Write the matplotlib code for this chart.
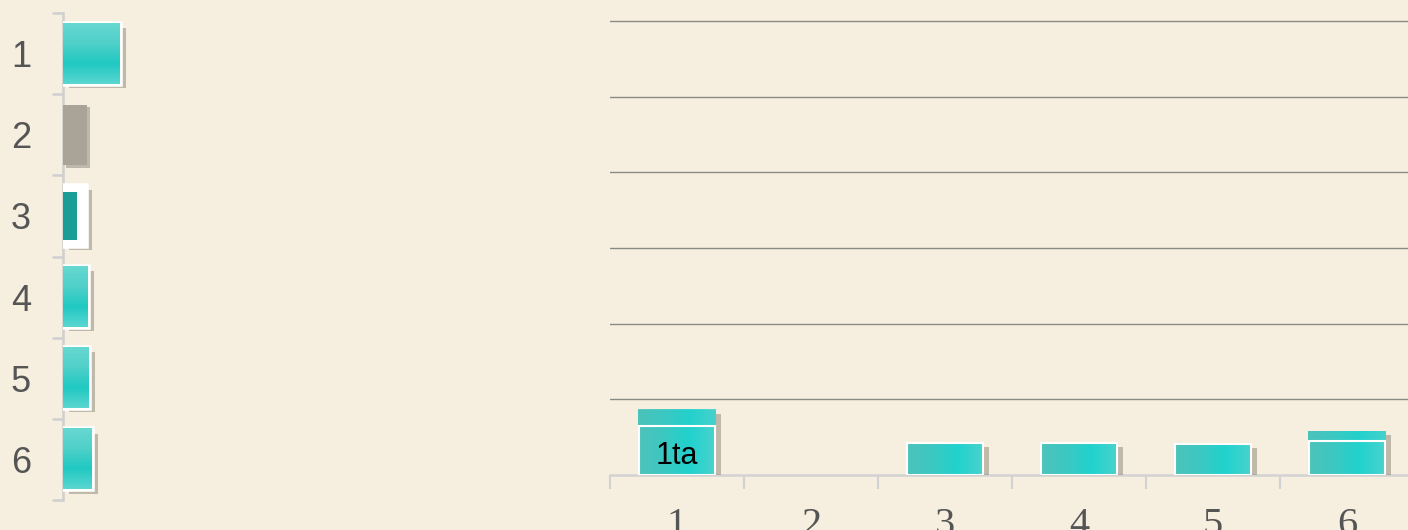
import matplotlib
matplotlib.use("Agg")
import matplotlib.pyplot as plt
import numpy as np
from matplotlib import patheffects as pe
from matplotlib.colors import LinearSegmentedColormap

# ---- data ----
categories = ["1", "2", "3", "4", "5", "6"]
left_values = [11.4, 4.8, 4.6, 5.0, 5.2, 5.8]
left_inner = [0, 0, 2.8, 0, 0, 0]
right_values = [8.6, 0, 4.2, 4.2, 4.1, 5.8]
right_inner = [6.5, 0, 4.2, 4.2, 4.1, 4.5]
bar_label = "1ta"

BG = "#f6efdf"
TEAL_L = "#4cc3bb"
TEAL_R = "#20d2cd"
GRAY_TXT = "#555555"

fig = plt.figure(figsize=(14.08, 5.30), dpi=100, facecolor=BG)

teal_h = LinearSegmentedColormap.from_list("th", [TEAL_L, "#3cc8c2", TEAL_R, "#48d3cd"])
teal_v = LinearSegmentedColormap.from_list("tv", ["#66d8d1", "#4fd0c9", "#1fc9c2", "#5ad6d0"])

def shadow():
    return [pe.SimplePatchShadow(offset=(4, -3), shadow_rgbFace="#6e685c", alpha=0.4), pe.Normal()]

# ---------------- left panel (horizontal bars) ----------------
axl = fig.add_axes([63 / 1408, 30 / 530, 500 / 1408, 487 / 530])
axl.set_facecolor("none")
ypos = np.arange(len(categories))
hb = axl.barh(ypos, left_values, height=0.74, color=TEAL_R, edgecolor="white", linewidth=4, zorder=3)
for i, p in enumerate(hb):
    p.set_path_effects(shadow())
    x0, y0, w, h = p.get_x(), p.get_y(), p.get_width(), p.get_height()
    if i == 1:
        p.set_facecolor("#a9a398")
        p.set_edgecolor("none")
        p.set_path_effects([pe.SimplePatchShadow(offset=(2, -2), shadow_rgbFace="#9a9488", alpha=0.6), pe.Normal()])
        continue
    if i == 2:
        p.set_facecolor("white")
        continue
    grad = np.linspace(0, 1, 50).reshape(-1, 1)
    axl.imshow(grad, extent=[x0, x0 + w, y0 + h, y0], aspect="auto", cmap=teal_v, zorder=3.5, origin="upper")
ib = axl.barh(ypos, left_inner, height=0.6, color="#1a9d97", zorder=4)

axl.set_xlim(0, 100)
axl.set_ylim(len(categories) - 0.5, -0.5)
for s in ["top", "right", "bottom"]:
    axl.spines[s].set_visible(False)
axl.spines["left"].set_color("#cfcfcf")
axl.spines["left"].set_linewidth(1.8)
axl.set_xticks([])
axl.set_yticks(ypos)
axl.set_yticklabels(categories, fontsize=26, color=GRAY_TXT, family=["Liberation Sans", "DejaVu Sans"])
axl.tick_params(axis="y", which="major", length=0, pad=23)
axl.set_yticks(np.arange(-0.5, len(categories)), minor=True)
axl.tick_params(axis="y", which="minor", length=8, width=1.8, color="#cfcfcf")

# ---------------- right panel (vertical bars) ----------------
ytop = 61
axr = fig.add_axes([610 / 1408, 55 / 530, 804 / 1408, (475 - 21) * ytop / 60 / 530])
axr.set_facecolor("none")
xpos = np.arange(len(categories))
cap = axr.bar(xpos, right_values, width=0.58, color="#3ccbc5", linewidth=0, zorder=3)
for p in cap:
    x0, y0, w, h = p.get_x(), p.get_y(), p.get_width(), p.get_height()
    if h > 0:
        p.set_path_effects(shadow())
        grad = np.linspace(0, 1, 50).reshape(1, -1)
        axr.imshow(grad, extent=[x0, x0 + w, y0, y0 + h], aspect="auto", cmap=teal_h, zorder=3.2, alpha=0.9)
    else:
        p.set_visible(False)
main = axr.bar(xpos, right_inner, width=0.56, color=TEAL_R, linewidth=0, zorder=4)
for p in main:
    x0, y0, w, h = p.get_x(), p.get_y(), p.get_width(), p.get_height()
    if h > 0:
        grad = np.linspace(0, 1, 50).reshape(1, -1)
        axr.imshow(grad, extent=[x0, x0 + w, y0, y0 + h], aspect="auto", cmap=teal_h, zorder=4.5)
        axr.add_patch(plt.Rectangle((x0, y0), w, h, fill=False, edgecolor="white", linewidth=1.5, zorder=4.6))
    else:
        p.set_visible(False)

axr.text(xpos[0], right_inner[0] * 0.38, bar_label, ha="center", va="center", fontsize=22,
         color="black", family=["Liberation Sans", "DejaVu Sans"], zorder=6)

axr.set_xlim(-0.5, len(categories) - 0.5)
axr.set_ylim(0, ytop)
axr.set_yticks(np.arange(10, 61, 10))
axr.yaxis.grid(True, color="#8a8a84", linewidth=1.0, zorder=1)
axr.tick_params(axis="y", length=0, labelleft=False)
for s in ["top", "right", "left"]:
    axr.spines[s].set_visible(False)
axr.spines["bottom"].set_color("#d2d2d2")
axr.spines["bottom"].set_linewidth(1.8)
axr.set_xticks(xpos)
axr.set_xticklabels(categories, fontsize=29, color=GRAY_TXT, family=["Liberation Serif", "DejaVu Serif"])
axr.tick_params(axis="x", which="major", length=0, pad=23)
axr.set_xticks(np.arange(-0.5, len(categories)), minor=True)
axr.tick_params(axis="x", which="minor", length=10, width=1.5, color="#d2d2d2")

fig.savefig("out.png", dpi=100, facecolor=BG)
